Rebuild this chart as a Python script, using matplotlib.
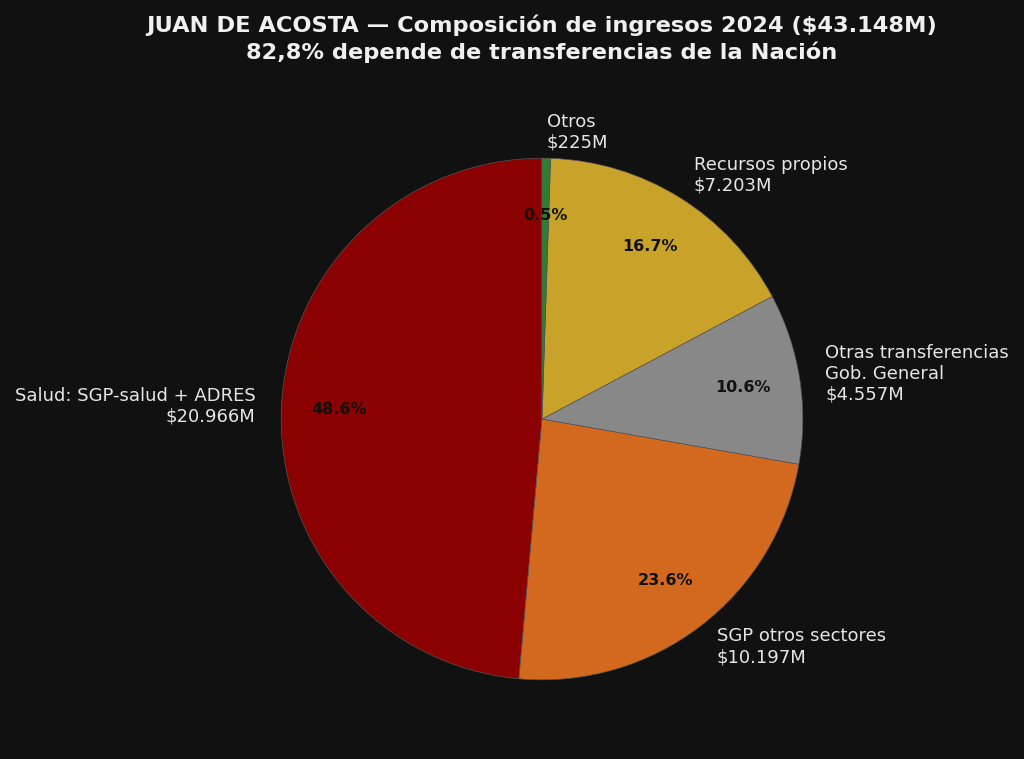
import matplotlib.pyplot as plt

plt.rcParams['font.family'] = ['DejaVu Sans']

categorias = ["Salud: SGP-salud + ADRES\n$20.966M",
              "SGP otros sectores\n$10.197M",
              "Otras transferencias\nGob. General\n$4.557M",
              "Recursos propios\n$7.203M",
              "Otros\n$225M"]
valores = [20966, 10197, 4557, 7203, 225]
colores = ["#8B0000", "#D2691E", "#888888", "#C9A22A", "#2E7D32"]

fondo = "#111111"

fig = plt.figure(figsize=(10.24, 7.59), dpi=100, facecolor=fondo)
ax = fig.add_axes([(542 - 326) / 1024, 14 / 759, 652 / 1024, 652 / 759])
ax.set_facecolor(fondo)

wedges, textos, pcts = ax.pie(
    valores, labels=categorias, colors=colores, startangle=90,
    autopct="%1.1f%%", pctdistance=0.78, labeldistance=1.1,
    wedgeprops=dict(edgecolor="#555555", linewidth=0.5),
    textprops=dict(color="#e6e6e6", fontsize=13))
for p in pcts:
    p.set_color("#111111")
    p.set_fontweight("bold")
    p.set_fontsize(11.5)

fig.text(542 / 1024, 1 - 38.5 / 759,
         "JUAN DE ACOSTA — Composición de ingresos 2024 ($43.148M)\n"
         "82,8% depende de transferencias de la Nación",
         ha="center", va="center", color="#f0f0f0", fontsize=16.2,
         fontweight="bold", linespacing=1.3)

fig.savefig("out.png", dpi=100, facecolor=fondo)
